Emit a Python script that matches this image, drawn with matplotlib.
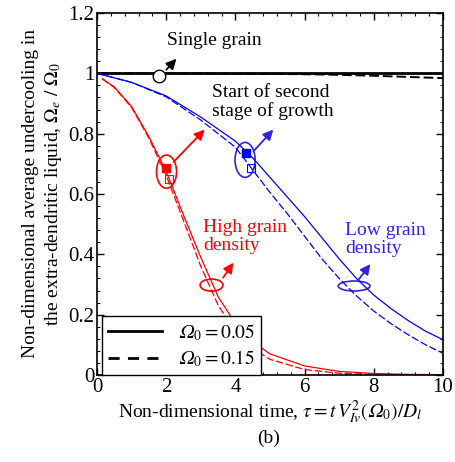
import numpy as np
import matplotlib
matplotlib.use("Agg")
from matplotlib import pyplot as plt
from matplotlib.patches import Ellipse
from matplotlib.lines import Line2D
from matplotlib.ticker import MultipleLocator

plt.rcParams["font.family"] = ["Liberation Serif", "DejaVu Serif"]
plt.rcParams["mathtext.fontset"] = "stix"

# single grain curves
single_x = [0, 2, 4, 6, 7, 8, 9, 10]
single_solid = [1.0, 1.0, 1.0, 1.0, 1.0, 1.0, 1.0, 1.0]
single_dash = [1.0, 1.0, 0.999, 0.997, 0.995, 0.992, 0.988, 0.984]

# low grain density (blue)
low_x = [0, 1, 2, 3, 4, 4.5, 5, 5.5, 6, 6.5, 7, 7.5, 8, 8.5, 9, 9.5, 10]
low_solid = [1.0, 0.97, 0.925, 0.855, 0.775, 0.72, 0.655, 0.59, 0.525,
             0.455, 0.385, 0.32, 0.265, 0.22, 0.18, 0.145, 0.117]
low_dash = [1.0, 0.97, 0.922, 0.845, 0.755, 0.68, 0.605, 0.535, 0.46,
            0.385, 0.32, 0.262, 0.212, 0.17, 0.133, 0.1, 0.072]

# high grain density (red)
high_x = [0.15, 0.5, 1, 1.5, 2, 2.5, 3, 3.5, 4, 4.5, 5, 6, 7, 8, 9, 10]
high_solid = [0.982, 0.955, 0.89, 0.79, 0.675, 0.53, 0.39, 0.26, 0.17,
              0.11, 0.07, 0.03, 0.012, 0.005, 0.002, 0.001]
high_dash = [0.982, 0.953, 0.887, 0.785, 0.662, 0.512, 0.36, 0.232, 0.142,
             0.087, 0.052, 0.018, 0.006, 0.002, 0.001, 0.0]

x_ticks = [0, 2, 4, 6, 8, 10]
y_ticks = [0, 0.2, 0.4, 0.6, 0.8, 1.0, 1.2]
y_ticklabels = ["0", "0.2", "0.4", "0.6", "0.8", "1", "1.2"]

red = "#ff0000"
blue = "#0000ff"
blue_txt = "#3322dd"
OM = "\U0001D6FA"  # italic capital omega

fig = plt.figure(figsize=(4.56, 4.62), dpi=100)
ax = fig.add_axes([0.2127, 0.1883, 0.7588, 0.7836])

ax.plot(single_x, single_solid, "k-", lw=2.0)
ax.plot(single_x, single_dash, "k--", lw=1.4, dashes=(5, 2))
ax.plot(low_x, low_solid, color=blue, lw=0.9)
ax.plot(low_x, low_dash, color=blue, lw=0.9, dashes=(6, 2))
ax.plot(high_x, high_solid, color=red, lw=0.9)
ax.plot(high_x, high_dash, color=red, lw=0.9, dashes=(6, 2))

# start of second stage markers
ax.plot([1.98], [0.685], "s", color=red, ms=6)
ax.plot([2.08], [0.65], "s", mfc="none", mec=red, ms=6, mew=0.8)
ax.plot([4.3], [0.735], "s", color=blue, ms=6)
ax.plot([4.45], [0.686], "s", mfc="none", mec=blue, ms=6, mew=0.8)

ax.add_patch(Ellipse((2.01, 0.674), 0.58, 0.11, fill=False, ec=red, lw=1.2))
ax.add_patch(Ellipse((4.28, 0.713), 0.58, 0.116, fill=False, ec=blue_txt, lw=1.2))
ax.add_patch(Ellipse((3.31, 0.298), 0.66, 0.04, fill=False, ec=red, lw=1.2))
ax.add_patch(Ellipse((7.43, 0.295), 0.92, 0.033, fill=False, ec=blue_txt, lw=1.2))

# single grain circle
ax.plot([1.8], [0.99], "o", mfc="white", mec="k", ms=9, mew=1.0)

arrow = dict(arrowstyle="-|>,head_length=0.6,head_width=0.3", lw=1.3)
ax.annotate("", xy=(2.35, 1.055), xytext=(1.95, 1.005),
            arrowprops=dict(arrow, color="k"))
ax.annotate("", xy=(3.17, 0.82), xytext=(2.16, 0.70),
            arrowprops=dict(arrow, color=red))
ax.annotate("", xy=(5.15, 0.82), xytext=(4.47, 0.735),
            arrowprops=dict(arrow, color=blue_txt))
ax.annotate("", xy=(3.99, 0.38), xytext=(3.6, 0.315),
            arrowprops=dict(arrow, color=red))
ax.annotate("", xy=(7.95, 0.375), xytext=(7.52, 0.31),
            arrowprops=dict(arrow, color=blue_txt))

ax.text(2.02, 1.11, "Single grain", fontsize=14, va="center")
ax.text(3.32, 0.905, "Start of second\nstage of growth", fontsize=14,
        va="center", linespacing=1.05)
ax.text(3.07, 0.46, "High grain\ndensity", fontsize=14, color=red,
        va="center", linespacing=1.05)
ax.text(7.18, 0.45, "Low grain\ndensity", fontsize=14, color=blue_txt,
        va="center", linespacing=1.05)

ax.set_xlim(0, 10)
ax.set_ylim(0, 1.2)
ax.set_xticks(x_ticks)
ax.set_xticklabels([str(v) for v in x_ticks])
ax.set_yticks(y_ticks)
ax.set_yticklabels(y_ticklabels)
ax.xaxis.set_minor_locator(MultipleLocator(0.4))
ax.yaxis.set_minor_locator(MultipleLocator(0.04))
ax.tick_params(which="both", direction="in", top=True, right=True,
               labelsize=15, pad=2)
ax.tick_params(which="major", length=5, width=1)
ax.tick_params(which="minor", length=2.5, width=0.8)
for s in ax.spines.values():
    s.set_linewidth(1.2)

ax.set_xlabel(r"Non-dimensional time, $\tau = t\,V_{Iv}^{2}\left(" + OM + r"_0\right)/D_l$",
              fontsize=14, labelpad=1)
ax.set_ylabel("Non-dimensional average undercooling in\n"
              r"the extra-dendritic liquid, $\Omega_e\ /\ \Omega_0$",
              fontsize=14, labelpad=3, linespacing=1.25)
fig.text(0.59, 0.052, "(b)", fontsize=14, ha="center", va="center")

handles = [Line2D([], [], color="k", lw=2.0),
           Line2D([], [], color="k", lw=2.0, dashes=(4, 3))]
ax.legend(handles, ["$" + OM + "_0 = 0.05$", "$" + OM + "_0 = 0.15$"],
          loc="lower left", bbox_to_anchor=(0.015, 0.0), fontsize=14,
          fancybox=False, edgecolor="k", framealpha=1, borderaxespad=0,
          handlelength=2.8, labelspacing=0.3, borderpad=0.3)

fig.savefig("out.png", dpi=100)
